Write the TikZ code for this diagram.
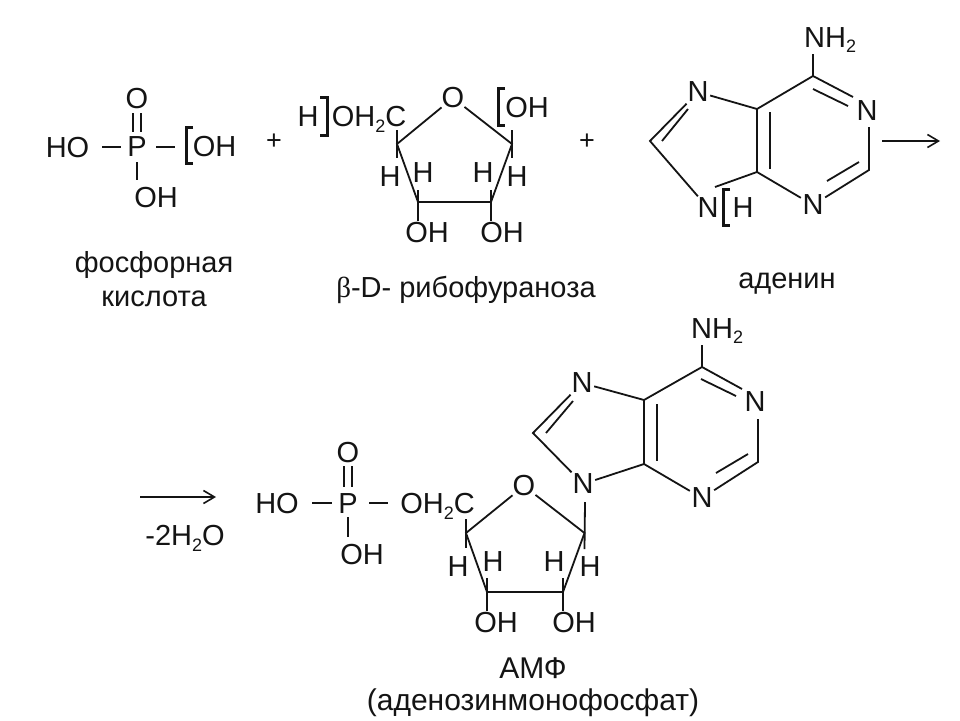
\documentclass[tikz,border=0pt]{standalone}
\usepackage{fontspec}
\setmainfont{Liberation Sans}
\newfontfamily\betafont{Liberation Serif}
\usetikzlibrary{arrows.meta}
\newcommand{\subtwo}{\raisebox{-0.2em}{\fontsize{18}{18}\selectfont 2}}
\tikzset{
  atomtext/.style={inner sep=1.5pt,font=\fontsize{29}{34}\selectfont,text=black!92},
  otext/.style={atomtext,inner sep=0pt},
  labeltext/.style={inner sep=0pt,font=\fontsize{29}{34}\selectfont,text=black!92},
  bottomtext/.style={inner sep=0pt,font=\fontsize{30}{35}\selectfont,text=black!92},
  plustext/.style={inner sep=0pt,font=\fontsize{27}{30}\selectfont,text=black!92},
  bond/.style={draw=black!92,line width=1.8pt},
  brk/.style={draw=black!92,line width=3pt,line cap=butt,line join=miter},
  reactarrow/.style={draw=black!92,line width=1.6pt,-{Straight Barb[length=11pt,width=13pt,line width=1.6pt]}}
}
\begin{document}
\begin{tikzpicture}[x=1pt,y=-1pt]
\useasboundingbox (0,0) rectangle (960,720);
\fill[white] (0,0) rectangle (960,720);

% ---------- phosphoric acid
\node[otext] (pO) at (137,99) {O};
\node[atomtext] (pP) at (137,147) {P};
\node[atomtext] (pHO) at (67.5,148) {HO};
\node[atomtext] (pOHr) at (214.5,147) {OH};
\node[atomtext] (pOHb) at (156,198) {OH};
\coordinate (pL1) at (102,147); \coordinate (pL2) at (121,147);
\coordinate (pR1) at (156,147); \coordinate (pR2) at (175,147);
\coordinate (pB1) at (137,162); \coordinate (pB2) at (137,180);
\coordinate (pD1a) at (133,113); \coordinate (pD1b) at (133,132);
\coordinate (pD2a) at (141,113); \coordinate (pD2b) at (141,132);
\draw[bond] (pL1) -- (pL2);
\draw[bond] (pR1) -- (pR2);
\draw[bond] (pB1) -- (pB2);
\draw[bond] (pD1a) -- (pD1b);
\draw[bond] (pD2a) -- (pD2b);
\coordinate (pBa) at (193,127.5); \coordinate (pBb) at (186,127.5);
\coordinate (pBc) at (186,163); \coordinate (pBd) at (193,163);
\draw[brk] (pBa) -- (pBb) -- (pBc) -- (pBd);
\node[plustext] (plus1) at (274,142) {+};
\node[labeltext] (lab1a) at (154,265) {фосфорная};
\node[labeltext] (lab1b) at (154,299) {кислота};

% ---------- ribofuranose
\node[atomtext] (rH) at (308,117) {H};
\node[atomtext,inner sep=0pt] (rCH) at (369,119) {OH\subtwo C};
\node[otext] (rO) at (453,98) {O};
\node[atomtext] (rOH) at (527,108) {OH};
\coordinate (rC4) at (397,144); \coordinate (rC1) at (512,144);
\coordinate (rC3) at (418,202); \coordinate (rC2) at (491,202);
\coordinate (rC4u) at (397,130); \coordinate (rC4d) at (397,158);
\coordinate (rC1u) at (512,130); \coordinate (rC1d) at (512,158);
\coordinate (rC3u) at (418,190); \coordinate (rC2u) at (491,190);
\node[atomtext] (rH1) at (390,177) {H};
\node[atomtext] (rH2) at (423,173) {H};
\node[atomtext] (rH3) at (483,173) {H};
\node[atomtext] (rH4) at (517,177) {H};
\node[atomtext] (rOH3) at (427,233) {OH};
\node[atomtext] (rOH2) at (502,233) {OH};
\draw[bond] (rO) -- (rC4) -- (rC3) -- (rC2) -- (rC1) -- (rO);
\draw[bond] (rC4u) -- (rC4d);
\draw[bond] (rC1u) -- (rC1d);
\draw[bond] (rC3u) -- (rC3 |- rOH3.north);
\draw[bond] (rC2u) -- (rC2 |- rOH2.north);
\coordinate (rBa) at (320,97.5); \coordinate (rBb) at (327,97.5);
\coordinate (rBc) at (327,135); \coordinate (rBd) at (320,135);
\draw[brk] (rBa) -- (rBb) -- (rBc) -- (rBd);
\coordinate (rCa) at (505,88.5); \coordinate (rCb) at (498.5,88.5);
\coordinate (rCc) at (498.5,125); \coordinate (rCd) at (505,125);
\draw[brk] (rCa) -- (rCb) -- (rCc) -- (rCd);
\node[plustext] (plus2) at (587,142) {+};
\node[labeltext] (lab2) at (466,290) {{\betafont β}-D- рибофураноза};

% ---------- adenine
\node[atomtext,anchor=west,inner sep=0pt] (aNH) at (804,40) {NH\subtwo};
\node[atomtext] (aN7) at (698,92) {N};
\node[atomtext] (aN1) at (867,111) {N};
\node[atomtext] (aN3) at (813,205) {N};
\node[atomtext] (aN9) at (708,208) {N};
\node[atomtext] (aH) at (743,208) {H};
\coordinate (aC6) at (813,76); \coordinate (aC5) at (757,109);
\coordinate (aC4) at (757,172); \coordinate (aC2) at (869,170);
\coordinate (aC8) at (650,141);
\coordinate (aNHb) at (813,54);
\coordinate (ai1a) at (813,89); \coordinate (ai1b) at (848,106);
\coordinate (ai2a) at (859,162); \coordinate (ai2b) at (827,181);
\coordinate (ai3a) at (770,112); \coordinate (ai3b) at (770,169);
\coordinate (ai4a) at (688,109); \coordinate (ai4b) at (662,141);
\coordinate (aJ1) at (853,97);
\coordinate (aJ2) at (869,127);
\coordinate (aJ3) at (715,187);
\draw[bond] (aNHb) -- (aC6) -- (aJ1);
\draw[bond] (ai1a) -- (ai1b);
\draw[bond] (aJ2) -- (aC2) -- (aN3);
\draw[bond] (ai2a) -- (ai2b);
\draw[bond] (aN3) -- (aC4) -- (aC5) -- (aC6);
\draw[bond] (ai3a) -- (ai3b);
\draw[bond] (aC5) -- (aN7) -- (aC8) -- (aN9);
\draw[bond] (ai4a) -- (ai4b);
\draw[bond] (aC4) -- (aJ3);
\coordinate (aBa) at (730,189.5); \coordinate (aBb) at (723.5,189.5);
\coordinate (aBc) at (723.5,225); \coordinate (aBd) at (730,225);
\draw[brk] (aBa) -- (aBb) -- (aBc) -- (aBd);
\coordinate (arr1a) at (882,141); \coordinate (arr1b) at (940,141);
\draw[reactarrow] (arr1a) -- (arr1b);
\node[labeltext] (lab3) at (787,284) {аденин};

% ---------- arrow to AMP
\coordinate (arr2a) at (140,497); \coordinate (arr2b) at (216,497);
\draw[reactarrow] (arr2a) -- (arr2b);
\node[atomtext,inner sep=0pt] (water) at (185,538) {-2H\subtwo O};

% ---------- AMP phosphate
\node[otext] (mO) at (348,453) {O};
\node[atomtext] (mP) at (348,504) {P};
\node[atomtext] (mHO) at (277,504) {HO};
\node[atomtext] (mOHb) at (362,555) {OH};
\node[atomtext,inner sep=0pt] (mCH) at (437.5,506) {OH\subtwo C};
\coordinate (mL1) at (312,503); \coordinate (mL2) at (332,503);
\coordinate (mR1) at (369,503); \coordinate (mR2) at (388,503);
\coordinate (mB1) at (348,517); \coordinate (mB2) at (348,537);
\coordinate (mD1a) at (344,466); \coordinate (mD1b) at (344,487);
\coordinate (mD2a) at (352,466); \coordinate (mD2b) at (352,487);
\draw[bond] (mL1) -- (mL2);
\draw[bond] (mR1) -- (mR2);
\draw[bond] (mB1) -- (mB2);
\draw[bond] (mD1a) -- (mD1b);
\draw[bond] (mD2a) -- (mD2b);

% ---------- AMP ribose
\node[otext] (nO) at (524,486) {O};
\coordinate (nC4) at (466,533); \coordinate (nC1) at (584.5,533);
\coordinate (nC3) at (487,592); \coordinate (nC2) at (563,592);
\coordinate (nC4u) at (466,519); \coordinate (nC4d) at (466,548);
\coordinate (nC1d) at (584.5,549);
\coordinate (nC3u) at (487,578); \coordinate (nC2u) at (563,578);
\node[atomtext] (nH1) at (458,567) {H};
\node[atomtext] (nH2) at (493,562) {H};
\node[atomtext] (nH3) at (554,562) {H};
\node[atomtext] (nH4) at (590,567) {H};
\node[atomtext] (nOH3) at (496,623) {OH};
\node[atomtext] (nOH2) at (574,623) {OH};
\draw[bond] (nO) -- (nC4) -- (nC3) -- (nC2) -- (nC1) -- (nO);
\draw[bond] (nC4u) -- (nC4d);
\draw[bond] (nC3u) -- (nC3 |- nOH3.north);
\draw[bond] (nC2u) -- (nC2 |- nOH2.north);

% ---------- AMP adenine
\node[atomtext,anchor=west,inner sep=0pt] (bNH) at (691,331) {NH\subtwo};
\node[atomtext] (bN7) at (582,383) {N};
\node[atomtext] (bN1) at (755,402) {N};
\node[atomtext] (bN3) at (702,498) {N};
\node[atomtext] (bN9) at (583,484) {N};
\coordinate (bC6) at (702,367); \coordinate (bC5) at (644,400);
\coordinate (bC4) at (644,464); \coordinate (bC2) at (758,462);
\coordinate (bC8) at (533,433);
\coordinate (bNHb) at (702,345);
\coordinate (bi1a) at (701,379); \coordinate (bi1b) at (736,396);
\coordinate (bi2a) at (748,454); \coordinate (bi2b) at (716,473);
\coordinate (bi3a) at (657,404); \coordinate (bi3b) at (657,461);
\coordinate (bi4a) at (573,401); \coordinate (bi4b) at (546,433);
\coordinate (bJ1) at (742,389);
\coordinate (bJ2) at (758,419);
\coordinate (bJ3) at (585,502);
\draw[bond] (bNHb) -- (bC6) -- (bJ1);
\draw[bond] (bi1a) -- (bi1b);
\draw[bond] (bJ2) -- (bC2) -- (bN3);
\draw[bond] (bi2a) -- (bi2b);
\draw[bond] (bN3) -- (bC4) -- (bC5) -- (bC6);
\draw[bond] (bi3a) -- (bi3b);
\draw[bond] (bC5) -- (bN7) -- (bC8) -- (bN9) -- (bC4);
\draw[bond] (bi4a) -- (bi4b);
\draw[bond] (bJ3) -- (nC1d);

\node[bottomtext] (lab4a) at (533,668) {АМФ};
\node[bottomtext] (lab4b) at (533,703) {(аденозинмонофосфат)};
\end{tikzpicture}
\end{document}
